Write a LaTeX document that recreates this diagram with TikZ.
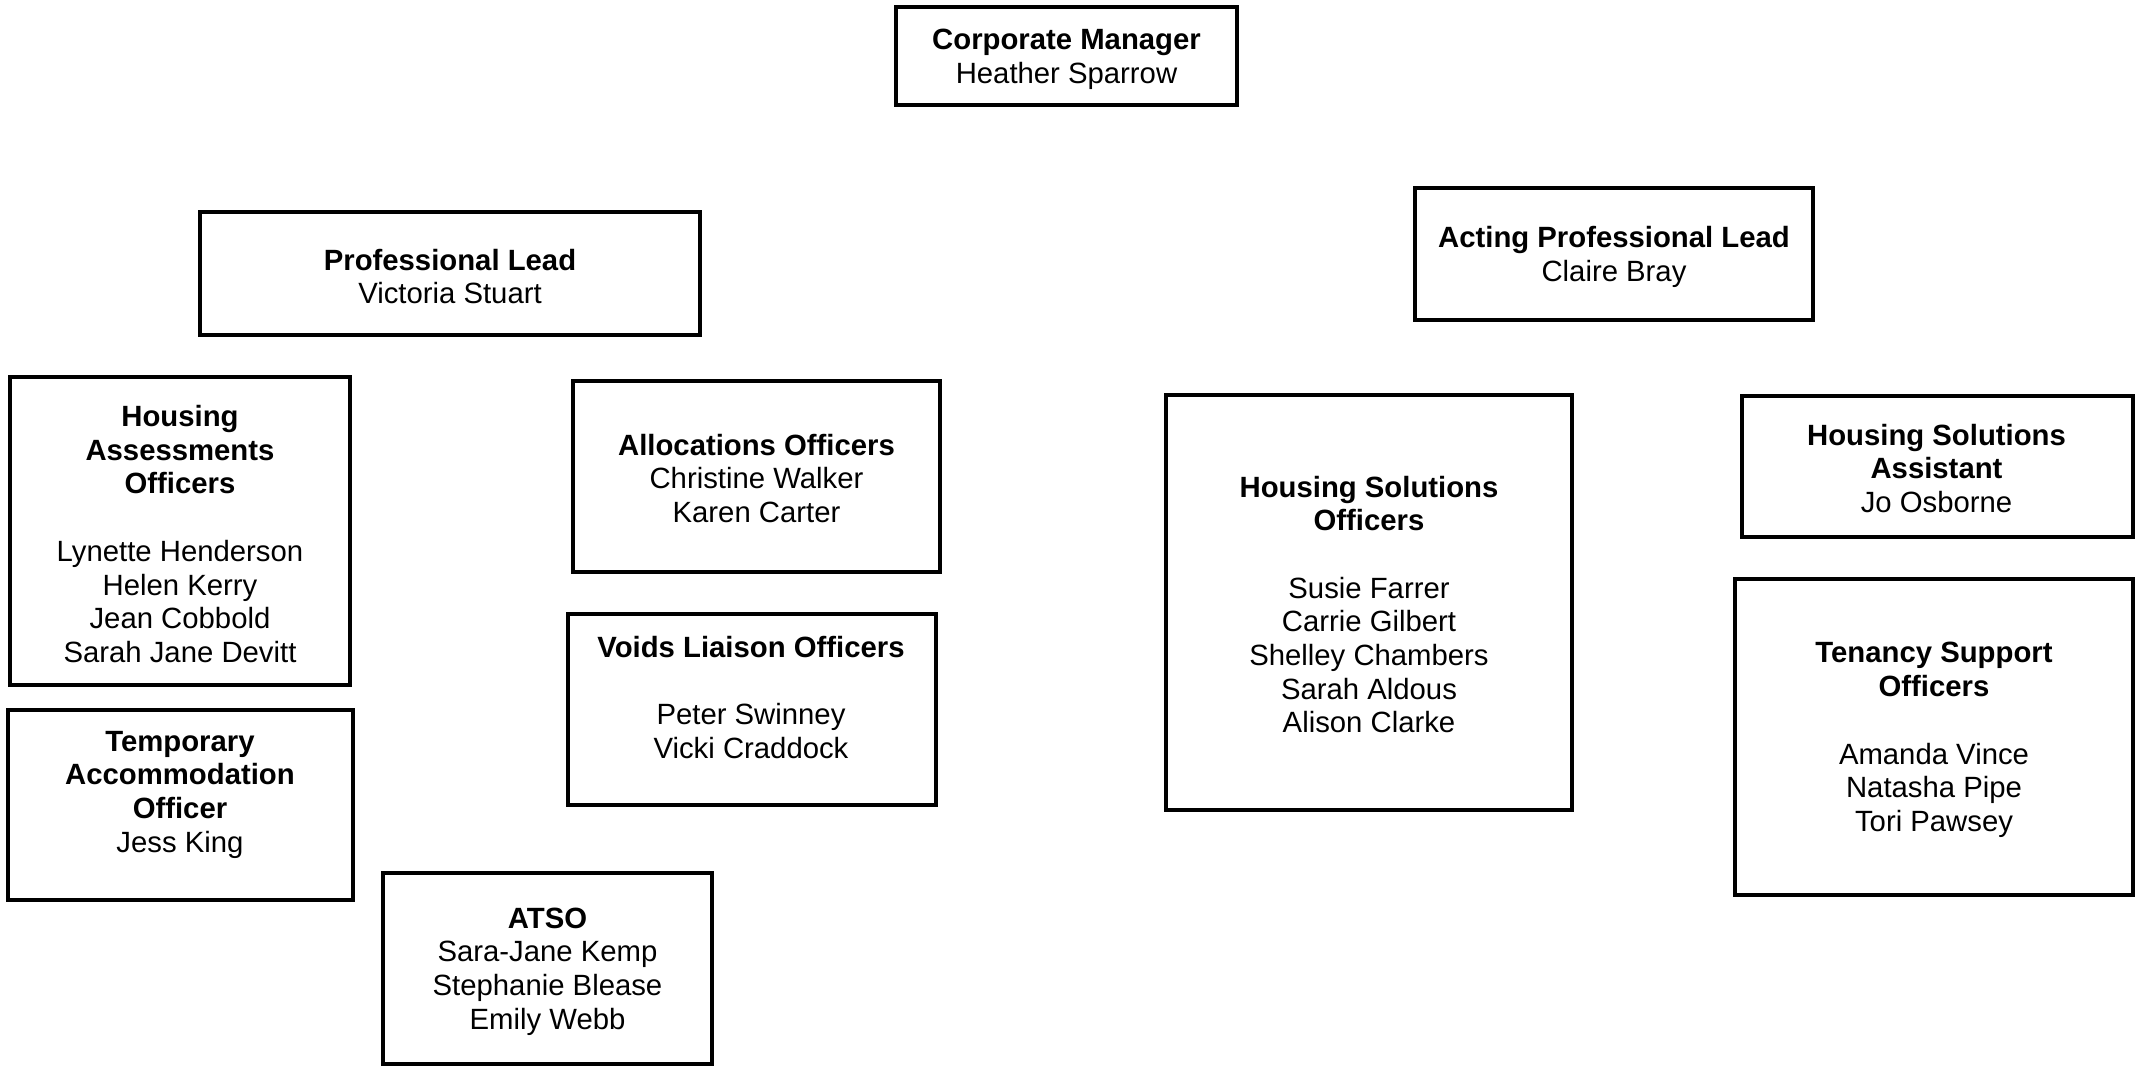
\documentclass[tikz,border=0pt]{standalone}
\usepackage{fontspec}
\setmainfont{Liberation Sans}
\begin{document}
\begin{tikzpicture}[x=1pt,y=-1pt,
  box/.style={draw=black,line width=4pt,rectangle,inner sep=0pt,outer sep=0pt,fill=white},
  txt/.style={inner sep=0pt,align=center,font=\fontsize{29.3}{33.7}\selectfont}]
\useasboundingbox (0,0) rectangle (2136,1066);
\fill[white] (0,0) rectangle (2136,1066);

% boxes
\node[box,minimum width=341pt,minimum height=98pt]  (cm)   at (1066.5,56)  {};
\node[box,minimum width=500pt,minimum height=123pt] (pl)   at (450,273.5)  {};
\node[box,minimum width=398pt,minimum height=132pt] (apl)  at (1614,254)   {};
\node[box,minimum width=340pt,minimum height=308pt] (hao)  at (180,531)    {};
\node[box,minimum width=367pt,minimum height=191pt] (ao)   at (756.5,476.5){};
\node[box,minimum width=345pt,minimum height=190pt] (tao)  at (180.5,805)  {};
\node[box,minimum width=368pt,minimum height=191pt] (vlo)  at (752,709.5)  {};
\node[box,minimum width=329pt,minimum height=191pt] (atso) at (547.5,968.5){};
\node[box,minimum width=406pt,minimum height=415pt] (hso)  at (1369,602.5) {};
\node[box,minimum width=391pt,minimum height=141pt] (hsa)  at (1937.5,466.5){};
\node[box,minimum width=398pt,minimum height=316pt] (tso)  at (1934,737)   {};

% texts
\node[txt,yshift=-3pt] (cmt) at (cm.center)
  {\textbf{Corporate Manager}\\Heather Sparrow};
\node[txt,yshift=-3pt] (plt) at (pl.center)
  {\textbf{Professional Lead}\\Victoria Stuart};
\node[txt,yshift=-3pt] (aplt) at (apl.center)
  {\textbf{Acting Professional Lead}\\Claire Bray};
\node[txt,yshift=-3pt] (haot) at (hao.center)
  {\textbf{Housing}\\\textbf{Assessments}\\\textbf{Officers}\\[33.7pt]Lynette Henderson\\Helen Kerry\\Jean Cobbold\\Sarah Jane Devitt};
\node[txt,yshift=-2pt] (aot) at (ao.center)
  {\textbf{Allocations Officers}\\Christine Walker\\Karen Carter};
\node[txt,yshift=10.5pt] (taot) at ([xshift=-0.5pt]tao.center)
  {\textbf{Temporary}\\\textbf{Accommodation}\\\textbf{Officer}\\Jess King};
\node[txt,yshift=12pt] (vlot) at ([xshift=-1pt]vlo.center)
  {\textbf{Voids Liaison Officers}\\[33.7pt]Peter Swinney\\Vicki Craddock};
\node[txt,yshift=-3pt] (atsot) at (atso.center)
  {\textbf{ATSO}\\Sara-Jane Kemp\\Stephanie Blease\\Emily Webb};
\node[txt,yshift=-2pt] (hsot) at (hso.center)
  {\textbf{Housing Solutions}\\\textbf{Officers}\\[33.7pt]Susie Farrer\\Carrie Gilbert\\Shelley Chambers\\Sarah Aldous\\Alison Clarke};
\node[txt,yshift=-2pt] (hsat) at ([xshift=-1pt]hsa.center)
  {\textbf{Housing Solutions}\\\textbf{Assistant}\\Jo Osborne};
\node[txt,yshift=-3pt] (tsot) at (tso.center)
  {\textbf{Tenancy Support}\\\textbf{Officers}\\[33.7pt]Amanda Vince\\Natasha Pipe\\Tori Pawsey};
\end{tikzpicture}
\end{document}
